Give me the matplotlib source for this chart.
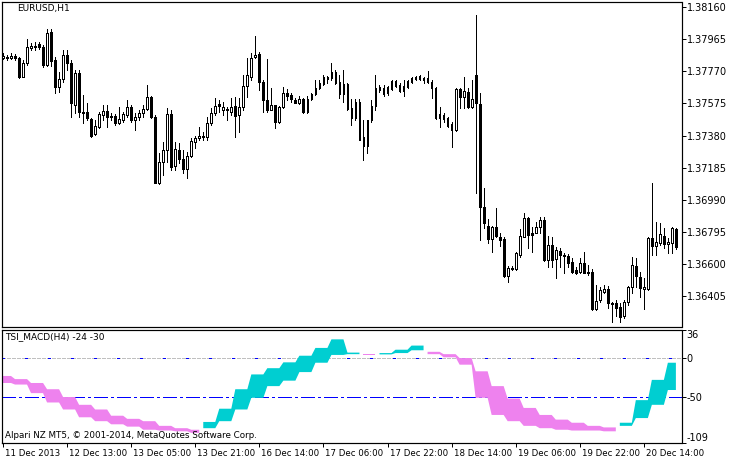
import numpy as np
import matplotlib.pyplot as plt
import matplotlib.transforms as mtransforms

# EURUSD H1, 11 Dec 2013 21:00 .. 20 Dec 2013 22:00
opens = [1.37854, 1.37857, 1.37854, 1.37864, 1.37849, 1.37737, 1.37819, 1.37914, 1.37916, 1.37936,
         1.37920, 1.37809, 1.38010, 1.37839, 1.37675, 1.37724, 1.37870, 1.37821, 1.37565, 1.37760,
         1.37523, 1.37523, 1.37480, 1.37389, 1.37432, 1.37505, 1.37529, 1.37499, 1.37499, 1.37456,
         1.37474, 1.37505, 1.37553, 1.37474, 1.37493, 1.37517, 1.37541, 1.37614, 1.37493, 1.37091,
         1.37219, 1.37292, 1.37511, 1.37194, 1.37292, 1.37237, 1.37176, 1.37256, 1.37341, 1.37365,
         1.37377, 1.37371, 1.37456, 1.37517, 1.37572, 1.37535, 1.37535, 1.37523, 1.37559, 1.37505,
         1.37553, 1.37681, 1.37736, 1.37857, 1.37876, 1.37706, 1.37596, 1.37535, 1.37565, 1.37462,
         1.37553, 1.37639, 1.37626, 1.37596, 1.37578, 1.37602, 1.37523, 1.37602, 1.37633, 1.37669,
         1.37693, 1.37724, 1.37730, 1.37766, 1.37706, 1.37633, 1.37693, 1.37547, 1.37486, 1.37584,
         1.37371, 1.37316, 1.37474, 1.37559, 1.37675, 1.37669, 1.37639, 1.37663, 1.37712, 1.37687,
         1.37651, 1.37675, 1.37706, 1.37724, 1.37742, 1.37730, 1.37730, 1.37706, 1.37669, 1.37486,
         1.37505, 1.37486, 1.37450, 1.37414, 1.37663, 1.37614, 1.37645, 1.37553, 1.37748, 1.37572,
         1.36945, 1.36830, 1.36751, 1.36824, 1.36763, 1.36751, 1.36526, 1.36569, 1.36569, 1.36654,
         1.36763, 1.36878, 1.36787, 1.36787, 1.36824, 1.36866, 1.36623, 1.36714, 1.36629, 1.36678,
         1.36654, 1.36648, 1.36611, 1.36562, 1.36550, 1.36605, 1.36550, 1.36550, 1.36325, 1.36380,
         1.36429, 1.36447, 1.36362, 1.36362, 1.36337, 1.36283, 1.36368, 1.36459, 1.36587, 1.36520,
         1.36447, 1.36447, 1.36757, 1.36708, 1.36727, 1.36769, 1.36720, 1.36727, 1.36812]
highs = [1.37882, 1.37870, 1.37884, 1.37874, 1.37859, 1.37839, 1.37967, 1.37941, 1.37950, 1.37947,
         1.37930, 1.38028, 1.38025, 1.37857, 1.37766, 1.37900, 1.37900, 1.37839, 1.37778, 1.37778,
         1.37626, 1.37578, 1.37486, 1.37474, 1.37523, 1.37565, 1.37565, 1.37517, 1.37511, 1.37553,
         1.37523, 1.37596, 1.37565, 1.37517, 1.37535, 1.37565, 1.37687, 1.37620, 1.37505, 1.37274,
         1.37341, 1.37547, 1.37535, 1.37341, 1.37335, 1.37292, 1.37280, 1.37365, 1.37377, 1.37432,
         1.37401, 1.37493, 1.37547, 1.37608, 1.37596, 1.37584, 1.37553, 1.37608, 1.37614, 1.37608,
         1.37748, 1.37851, 1.37882, 1.37985, 1.37888, 1.37718, 1.37845, 1.37669, 1.37565, 1.37559,
         1.37675, 1.37663, 1.37639, 1.37608, 1.37620, 1.37608, 1.37620, 1.37639, 1.37718, 1.37718,
         1.37748, 1.37742, 1.37821, 1.37778, 1.37748, 1.37778, 1.37699, 1.37602, 1.37602, 1.37602,
         1.37474, 1.37474, 1.37596, 1.37748, 1.37687, 1.37687, 1.37681, 1.37718, 1.37718, 1.37699,
         1.37718, 1.37718, 1.37733, 1.37742, 1.37748, 1.37736, 1.37772, 1.37718, 1.37675, 1.37553,
         1.37517, 1.37493, 1.37462, 1.37669, 1.37669, 1.37736, 1.37669, 1.37718, 1.38113, 1.37639,
         1.37061, 1.36872, 1.36830, 1.36939, 1.36787, 1.36763, 1.36587, 1.36587, 1.36672, 1.36812,
         1.36909, 1.36885, 1.36824, 1.36854, 1.36885, 1.36885, 1.36769, 1.36763, 1.36702, 1.36696,
         1.36666, 1.36660, 1.36635, 1.36581, 1.36635, 1.36672, 1.36593, 1.36569, 1.36471, 1.36459,
         1.36471, 1.36465, 1.36368, 1.36380, 1.36362, 1.36380, 1.36465, 1.36641, 1.36635, 1.36550,
         1.36514, 1.36763, 1.37091, 1.36854, 1.36848, 1.36818, 1.36757, 1.36824, 1.36818]
lows = [1.37845, 1.37839, 1.37843, 1.37839, 1.37728, 1.37736, 1.37809, 1.37900, 1.37900, 1.37906,
        1.37798, 1.37803, 1.37803, 1.37639, 1.37645, 1.37706, 1.37778, 1.37493, 1.37517, 1.37493,
        1.37456, 1.37474, 1.37371, 1.37383, 1.37426, 1.37474, 1.37432, 1.37474, 1.37444, 1.37450,
        1.37462, 1.37493, 1.37462, 1.37414, 1.37474, 1.37493, 1.37535, 1.37486, 1.37090, 1.37085,
        1.37140, 1.37219, 1.37170, 1.37170, 1.37213, 1.37152, 1.37122, 1.37250, 1.37304, 1.37353,
        1.37353, 1.37353, 1.37444, 1.37505, 1.37523, 1.37505, 1.37474, 1.37505, 1.37371, 1.37401,
        1.37535, 1.37614, 1.37718, 1.37851, 1.37657, 1.37523, 1.37523, 1.37535, 1.37426, 1.37456,
        1.37547, 1.37596, 1.37584, 1.37575, 1.37572, 1.37517, 1.37517, 1.37596, 1.37626, 1.37663,
        1.37687, 1.37699, 1.37718, 1.37693, 1.37608, 1.37584, 1.37535, 1.37444, 1.37474, 1.37353,
        1.37231, 1.37274, 1.37462, 1.37535, 1.37645, 1.37620, 1.37626, 1.37657, 1.37675, 1.37645,
        1.37620, 1.37669, 1.37699, 1.37718, 1.37718, 1.37699, 1.37699, 1.37608, 1.37480, 1.37432,
        1.37462, 1.37432, 1.37310, 1.37408, 1.37547, 1.37547, 1.37547, 1.37547, 1.37031, 1.36745,
        1.36818, 1.36727, 1.36672, 1.36763, 1.36708, 1.36520, 1.36489, 1.36562, 1.36562, 1.36641,
        1.36763, 1.36696, 1.36672, 1.36787, 1.36787, 1.36617, 1.36581, 1.36581, 1.36514, 1.36581,
        1.36544, 1.36581, 1.36544, 1.36541, 1.36544, 1.36544, 1.36532, 1.36319, 1.36319, 1.36368,
        1.36423, 1.36331, 1.36246, 1.36283, 1.36246, 1.36271, 1.36350, 1.36423, 1.36459, 1.36398,
        1.36325, 1.36441, 1.36654, 1.36654, 1.36714, 1.36696, 1.36666, 1.36666, 1.36690]
closes = [1.37864, 1.37851, 1.37864, 1.37849, 1.37737, 1.37819, 1.37920, 1.37924, 1.37924, 1.37916,
          1.37809, 1.38004, 1.37833, 1.37675, 1.37724, 1.37870, 1.37821, 1.37578, 1.37760, 1.37523,
          1.37517, 1.37486, 1.37377, 1.37438, 1.37511, 1.37529, 1.37493, 1.37493, 1.37456, 1.37480,
          1.37511, 1.37553, 1.37474, 1.37493, 1.37517, 1.37541, 1.37614, 1.37493, 1.37091, 1.37219,
          1.37292, 1.37511, 1.37188, 1.37298, 1.37237, 1.37176, 1.37256, 1.37347, 1.37365, 1.37377,
          1.37371, 1.37456, 1.37517, 1.37559, 1.37559, 1.37553, 1.37541, 1.37553, 1.37499, 1.37553,
          1.37681, 1.37748, 1.37851, 1.37870, 1.37706, 1.37596, 1.37535, 1.37565, 1.37462, 1.37553,
          1.37639, 1.37620, 1.37602, 1.37578, 1.37602, 1.37523, 1.37602, 1.37633, 1.37669, 1.37699,
          1.37736, 1.37736, 1.37766, 1.37699, 1.37633, 1.37693, 1.37541, 1.37486, 1.37584, 1.37353,
          1.37316, 1.37474, 1.37559, 1.37669, 1.37657, 1.37633, 1.37675, 1.37712, 1.37681, 1.37651,
          1.37681, 1.37712, 1.37730, 1.37736, 1.37724, 1.37718, 1.37706, 1.37669, 1.37486, 1.37511,
          1.37480, 1.37438, 1.37414, 1.37663, 1.37614, 1.37651, 1.37553, 1.37602, 1.37578, 1.36945,
          1.36848, 1.36751, 1.36824, 1.36769, 1.36745, 1.36526, 1.36575, 1.36575, 1.36666, 1.36769,
          1.36878, 1.36775, 1.36775, 1.36824, 1.36866, 1.36623, 1.36714, 1.36623, 1.36684, 1.36654,
          1.36648, 1.36605, 1.36550, 1.36544, 1.36605, 1.36544, 1.36544, 1.36325, 1.36374, 1.36441,
          1.36447, 1.36362, 1.36356, 1.36331, 1.36277, 1.36368, 1.36459, 1.36593, 1.36526, 1.36453,
          1.36459, 1.36757, 1.36708, 1.36733, 1.36781, 1.36720, 1.36733, 1.36818, 1.36702]

# TSI_MACD on H4, one value per H4 bar (the H1 chart shows each one for its hours)
tsi_h4 = [-32, -34, -45, -57, -66, -76, -81, -85, -88, -92, -93, -94, -96,
          -82, -65, -40, -21, -13, -5.5, 3, 13, 24, 7, 3.5, 6.4, 10.7, 16,
          5, 1, -8.5, -51, -73, -81, -87, -90, -92, -93, -93, -94,
          -83, -54, -28, -6]
signal_h4 = [-23, -27, -32, -40, -50, -60, -66, -74, -78, -81, -87, -90, -92,
             -90, -81, -66, -51, -36, -29, -18, -6, 4, 5, 5, 4.7, 6.4, 10,
             8, 5, 0, -17, -36, -52, -64, -73, -79, -83, -87, -89,
             -87, -77, -60, -41]
h1_per_h4 = [3] + [4] * 11 + [3] + [4] * 29 + [3]

price_ticks = [1.38160, 1.37965, 1.37770, 1.37575, 1.37380, 1.37185, 1.36990, 1.36795, 1.36600, 1.36405]
ind_ticks = [36, 0, -50, -109]
time_ticks = [0, 16, 32, 48, 64, 80, 96, 112, 128, 144, 160]
time_labels = ['11 Dec 2013', '12 Dec 13:00', '13 Dec 05:00', '13 Dec 21:00', '16 Dec 14:00',
               '17 Dec 06:00', '17 Dec 22:00', '18 Dec 14:00', '19 Dec 06:00', '19 Dec 22:00',
               '20 Dec 14:00']

W, H = 734, 463
fig = plt.figure(figsize=(W / 100, H / 100), dpi=100)
px = 0.72  # one pixel in points

ax1 = fig.add_axes([2 / W, (H - 327) / H, 679.5 / W, 325 / H])
ax2 = fig.add_axes([2 / W, (H - 443) / H, 679.5 / W, 113 / H])

x = np.arange(len(opens))
o, hi, lo, c = map(np.array, (opens, highs, lows, closes))

# candles
ax1.vlines(x, lo, hi, color='black', lw=px, antialiased=False, zorder=2)
up = c >= o
body_lo = np.minimum(o, c)
body_h = np.maximum(np.abs(c - o), 0.00002)
ax1.bar(x, body_h, bottom=body_lo, width=0.45,
        color=np.where(up, 'white', 'black'), edgecolor='black',
        linewidth=px, antialiased=False, zorder=3)
ax1.set_xlim(-0.25, 169.4)
ax1.set_ylim(1.36216, 1.38192)
ax1.yaxis.tick_right()
ax1.set_yticks(price_ticks)
ax1.set_yticklabels(['%.5f' % p for p in price_ticks])
ax1.set_xticks([])
ax1.tick_params(axis='y', direction='out', length=2.6, width=px, pad=1.2, labelsize=7)

# indicator
tsi = np.repeat(tsi_h4, h1_per_h4)
sig = np.repeat(signal_h4, h1_per_h4)
ax2.fill_between(x, tsi, sig, where=tsi >= sig, color='#00CED1', lw=0, zorder=2)
ax2.fill_between(x, tsi, sig, where=tsi < sig, color='#EE82EE', lw=0, zorder=2)
ax2.axhline(0, color='#C0C0C0', lw=px, dashes=(3, 2), antialiased=False, zorder=1)
ax2.axhline(0, color='#0000FF', lw=1.0, dashes=(2, 15), antialiased=False, zorder=1)
ax2.axhline(-50, color='#0000FF', lw=1.0, dashes=(10, 2.5, 2, 2.5), antialiased=False, zorder=1)
ax2.set_xlim(-0.25, 169.4)
ax2.set_ylim(-109, 36)
ax2.yaxis.tick_right()
ax2.set_yticks(ind_ticks)
ax2.set_yticklabels([str(v) for v in ind_ticks])
ylabs = ax2.get_yticklabels()
ylabs[0].set_va('top')
ylabs[-1].set_va('bottom')
ax2.tick_params(axis='y', direction='out', length=2.6, width=px, pad=1.2, labelsize=7)
ax2.set_xticks(time_ticks)
ax2.set_xticklabels(time_labels)
ax2.tick_params(axis='x', direction='out', length=3, width=px, pad=1.5, labelsize=6.2)
shift = mtransforms.ScaledTranslation(2 / 100, 0, fig.dpi_scale_trans)
for lab in ax2.get_xticklabels():
    lab.set_ha('left')
    lab.set_transform(lab.get_transform() + shift)

for ax in (ax1, ax2):
    for sp in ax.spines.values():
        sp.set_linewidth(px * 1.2)
        sp.set_color('black')

fig.text(17 / W, 1 - 9 / H, 'EURUSD,H1', fontsize=6.5, va='center', ha='left')
fig.text(5 / W, 1 - 337 / H, 'TSI_MACD(H4) -24 -30', fontsize=6.5, va='center', ha='left')
fig.text(5 / W, 1 - 435 / H, 'Alpari NZ MT5, \u00a9 2001-2014, MetaQuotes Software Corp.',
         fontsize=6.3, va='center', ha='left')

fig.savefig('out.png', dpi=100, facecolor='white')
